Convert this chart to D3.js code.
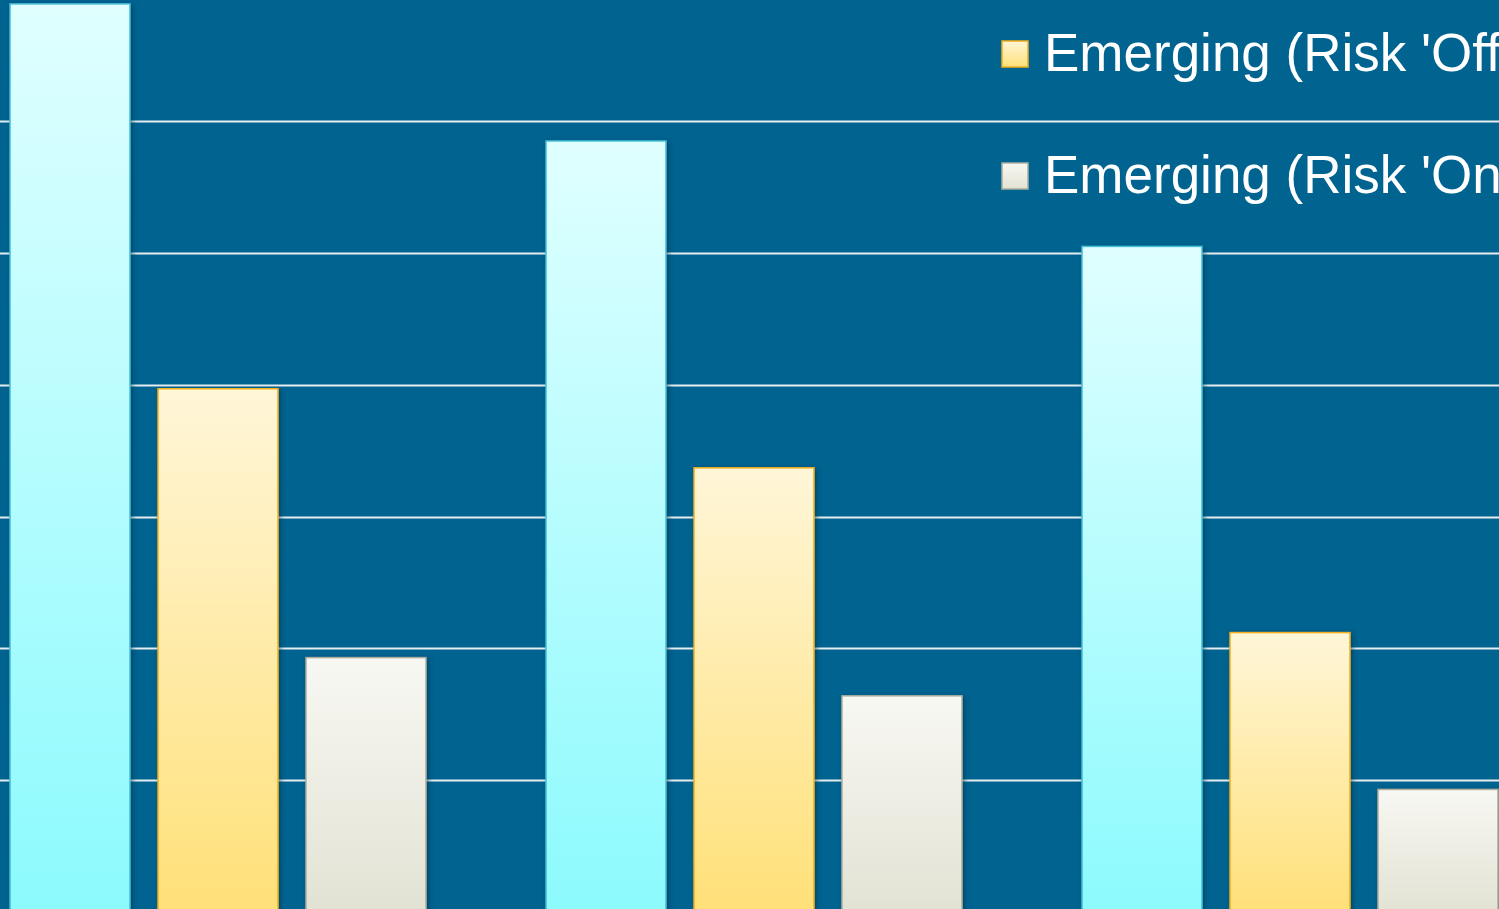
<!DOCTYPE html>
<html>
<head>
<meta charset="utf-8">
<script src="https://cdn.jsdelivr.net/npm/d3@7"></script>
<style>
  html, body { margin: 0; padding: 0; background: #006390; overflow: hidden; }
  svg { display: block; }
</style>
</head>
<body>
<div id="container"></div>
<script>
// data (units = one gridline step, baseline below the crop)
const groups = ["Group 1", "Group 2", "Group 3"];
const series = ["Developed", "Emerging (Risk 'Off')", "Emerging (Risk 'On')"];
const developed = [6.89, 5.85, 5.05];
const emergingOff = [3.97, 3.37, 2.12];
const emergingOn = [1.93, 1.64, 0.93];
const gridTicks = [1, 2, 3, 4, 5, 6];
const legendSeries = ["Emerging (Risk 'Off')", "Emerging (Risk 'On')"];

const width = 1499, height = 909;

const svg = d3.select("#container")
    .append("svg")
    .attr("width", width)
    .attr("height", height)

svg.append("rect")
    .attr("width", width)
    .attr("height", height)
    .attr("fill", "#006390")

const defs = svg.append("defs")

const colors = {
    "Developed": { top: "#E0FFFF", bottom: "#8CFAFD", stroke: "#45BCD6" },
    "Emerging (Risk 'Off')": { top: "#FFF6D8", bottom: "#FFE078", stroke: "#F2AE1C" },
    "Emerging (Risk 'On')": { top: "#F8F8F3", bottom: "#E2E2D4", stroke: "#ADAD9E" }
}

series.forEach((s, i) => {
    const g = defs.append("linearGradient")
        .attr("id", "grad" + i)
        .attr("x1", 0).attr("y1", 0).attr("x2", 0).attr("y2", 1)
    g.append("stop").attr("offset", "0%").attr("stop-color", colors[s].top)
    g.append("stop").attr("offset", "100%").attr("stop-color", colors[s].bottom)
})

const shadow = defs.append("filter")
    .attr("id", "shadow")
    .attr("x", "-10%").attr("y", "-10%")
    .attr("width", "130%").attr("height", "130%")
shadow.append("feDropShadow")
    .attr("dx", 2).attr("dy", 2)
    .attr("stdDeviation", 2.5)
    .attr("flood-color", "#00304a")
    .attr("flood-opacity", 0.55)

const yScale = d3.scaleLinear()
    .domain([0, 7])
    .range([912, 912 - 7 * 131.8])

const x0 = d3.scaleBand()
    .domain(groups)
    .range([10, 10 + groups.length * 536])
    .padding(0)

const x1 = d3.scaleBand()
    .domain(series)
    .range([0, 416])
    .paddingInner(28 / 148)
    .paddingOuter(0)

// gridlines
svg.append("g")
    .attr("class", "grid")
    .selectAll("line")
    .data(gridTicks)
    .join("line")
    .attr("x1", 0)
    .attr("x2", width)
    .attr("y1", d => Math.round(yScale(d)) + 0.5)
    .attr("y2", d => Math.round(yScale(d)) + 0.5)
    .attr("stroke", "#E6EEF2")
    .attr("stroke-width", 2)

const values = [developed, emergingOff, emergingOn]
const barData = []
groups.forEach((g, gi) => {
    series.forEach((s, si) => {
        barData.push({ group: g, series: s, si: si, value: values[si][gi] })
    })
})

svg.append("g")
    .selectAll("rect.bar")
    .data(barData)
    .join("rect")
    .attr("class", "bar")
    .attr("x", d => x0(d.group) + x1(d.series))
    .attr("y", d => yScale(d.value))
    .attr("width", x1.bandwidth())
    .attr("height", d => yScale(0) - yScale(d.value))
    .attr("fill", d => `url(#grad${d.si})`)
    .attr("stroke", d => colors[d.series].stroke)
    .attr("stroke-width", 1.5)
    .attr("filter", "url(#shadow)")

// legend
const legend = svg.append("g")
    .attr("class", "legend")
    .attr("transform", "translate(1002,41)")

const items = legend.selectAll("g.item")
    .data(legendSeries)
    .join("g")
    .attr("class", "item")
    .attr("transform", (d, i) => `translate(0,${i * 122})`)

items.append("rect")
    .attr("width", 26)
    .attr("height", 26)
    .attr("fill", d => `url(#grad${series.indexOf(d)})`)
    .attr("stroke", d => colors[d].stroke)
    .attr("stroke-width", 1.5)

items.append("text")
    .attr("x", 42)
    .attr("y", 30)
    .attr("fill", "white")
    .style("font-family", "'Liberation Sans', Arial, sans-serif")
    .style("font-size", "53px")
    .text(d => d)
</script>
</body>
</html>
